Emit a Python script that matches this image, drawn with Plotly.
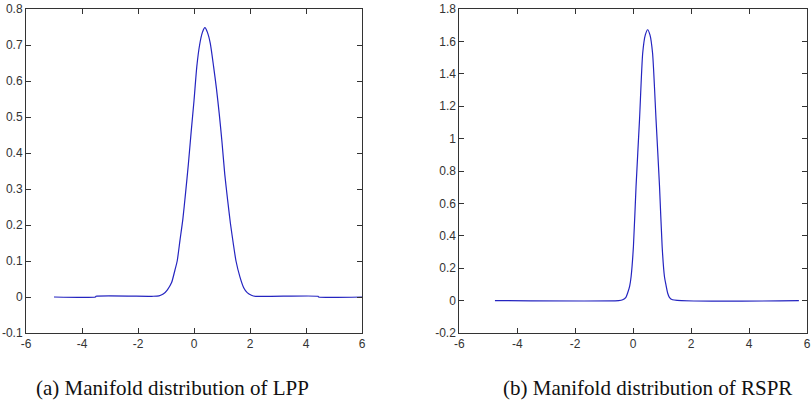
import plotly.graph_objects as go
from plotly.subplots import make_subplots

# ---- data ----
lpp_x = [-5.0, -3.52, -3.5, -1.5, -1.25, -1.1, -0.95, -0.8, -0.68, -0.6, -0.5, -0.4, -0.3, -0.2,
         -0.1, 0.0, 0.1, 0.2, 0.3, 0.39, 0.48, 0.58, 0.7, 0.8, 0.9, 1.0, 1.1, 1.2, 1.3, 1.4, 1.5,
         1.64, 1.78, 1.9, 2.05, 2.2, 4.43, 4.45, 6.0]
lpp_y = [0.0, 0.0, 0.002, 0.002, 0.003, 0.008, 0.02, 0.04, 0.075, 0.1, 0.158, 0.215, 0.29, 0.37,
         0.46, 0.545, 0.64, 0.70, 0.735, 0.748, 0.735, 0.705, 0.64, 0.58, 0.51, 0.43, 0.34, 0.27,
         0.205, 0.15, 0.10, 0.056, 0.025, 0.012, 0.005, 0.002, 0.002, 0.0, 0.0]

rspr_x = [-4.77, -0.5, -0.36, -0.25, -0.19, -0.12, -0.07, 0.01, 0.10, 0.22, 0.33, 0.42, 0.50,
          0.58, 0.67, 0.79, 0.91, 1.00, 1.08, 1.14, 1.19, 1.25, 1.36, 5.72]
rspr_y = [0.0, 0.0, 0.005, 0.02, 0.047, 0.09, 0.149, 0.335, 0.705, 1.117, 1.528, 1.64, 1.672,
          1.64, 1.528, 1.117, 0.705, 0.335, 0.149, 0.09, 0.047, 0.02, 0.005, 0.0]

x_ticks = [-6, -4, -2, 0, 2, 4, 6]
x_ticktext = ["-6", "-4", "-2", "0", "2", "4", "6"]
lpp_yticks = [-0.1, 0, 0.1, 0.2, 0.3, 0.4, 0.5, 0.6, 0.7, 0.8]
lpp_yticktext = ["-0.1", "0", "0.1", "0.2", "0.3", "0.4", "0.5", "0.6", "0.7", "0.8"]
rspr_yticks = [-0.2, 0, 0.2, 0.4, 0.6, 0.8, 1.0, 1.2, 1.4, 1.6, 1.8]
rspr_yticktext = ["-0.2", "0", "0.2", "0.4", "0.6", "0.8", "1", "1.2", "1.4", "1.6", "1.8"]

captions = ["(a) Manifold distribution of LPP", "(b) Manifold distribution of RSPR"]

W, H = 812, 402
line_color = "#2424c0"
axis_color = "#333333"
tick_font = dict(family="Liberation Sans Narrow, Liberation Sans, Arial, sans-serif",
                 size=12, color="#333333")

fig = make_subplots(rows=1, cols=2)
fig.add_trace(go.Scatter(x=lpp_x, y=lpp_y, mode="lines",
                         line=dict(color=line_color, width=1.2, shape="spline", smoothing=0.6),
                         showlegend=False), row=1, col=1)
fig.add_trace(go.Scatter(x=rspr_x, y=rspr_y, mode="lines",
                         line=dict(color=line_color, width=1.2, shape="spline", smoothing=0.6),
                         showlegend=False), row=1, col=2)

ydom = [1 - 333 / H, 1 - 9 / H]
axis_common = dict(showgrid=False, zeroline=False, showline=True, linecolor=axis_color,
                   linewidth=1, mirror="ticks", ticks="inside", ticklen=5, tickcolor=axis_color,
                   tickfont=tick_font, automargin=False)

fig.update_xaxes(domain=[26 / W, 362 / W], range=[-6, 6], tickvals=x_ticks,
                 ticktext=x_ticktext, row=1, col=1, **axis_common)
fig.update_xaxes(domain=[459.3 / W, 807 / W], range=[-6, 6], tickvals=x_ticks,
                 ticktext=x_ticktext, row=1, col=2, **axis_common)
fig.update_yaxes(domain=ydom, range=[-0.1, 0.8], tickvals=lpp_yticks,
                 ticktext=lpp_yticktext, row=1, col=1, **axis_common)
fig.update_yaxes(domain=ydom, range=[-0.2, 1.8], tickvals=rspr_yticks,
                 ticktext=rspr_yticktext, row=1, col=2, **axis_common)

for cx, txt in zip([172 / W, 647 / W], captions):
    fig.add_annotation(x=cx, y=1 - 388 / H, xref="paper", yref="paper", text=txt,
                       showarrow=False, xanchor="center", yanchor="middle",
                       font=dict(family="Liberation Serif, Times New Roman, serif",
                                 size=21, color="#111111"))

fig.update_layout(template="none", width=W, height=H,
                  margin=dict(l=0, r=0, t=0, b=0, pad=0),
                  paper_bgcolor="white", plot_bgcolor="white")

fig.write_html("out.html", config={"displayModeBar": False},
               post_script="document.body.style.margin='0';document.body.style.padding='0';")
